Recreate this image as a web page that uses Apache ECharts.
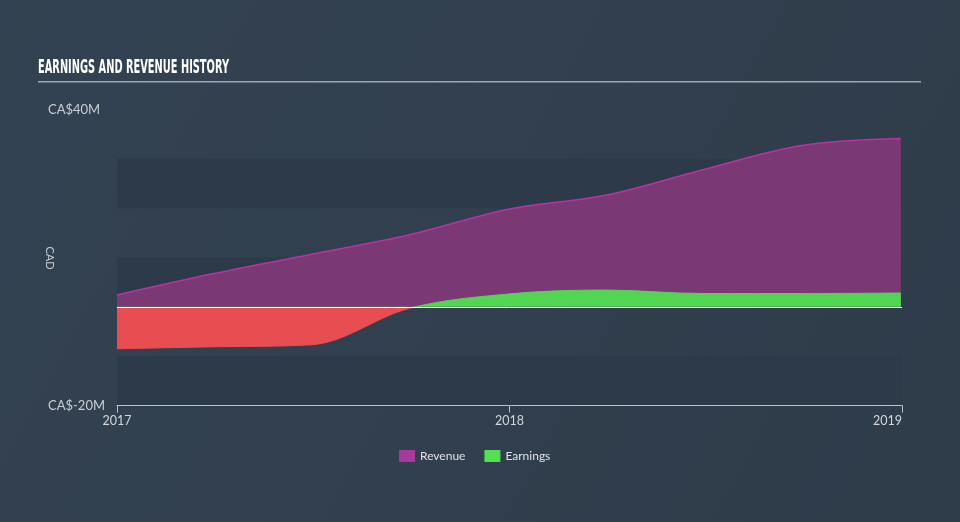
<!DOCTYPE html>
<html>
<head>
<meta charset="utf-8">
<script src="https://cdn.jsdelivr.net/npm/echarts@6/dist/echarts.min.js"></script>
<style>
html,body{margin:0;padding:0;background:#334150;}
#chart{width:960px;height:522px;}
</style>
</head>
<body>
<div id="chart"></div>
<script>
// ---- data ----
var dates = ['2017-01-01','2017-03-31','2017-06-30','2017-09-30','2017-12-31','2018-03-31','2018-06-30','2018-09-30','2018-12-31'];
var revenue = [2.4, 6.7, 10.6, 14.6, 19.8, 22.6, 27.8, 32.7, 34.1];   // CA$ millions
var earnings = [-8.5, -8.1, -7.7, -0.3, 2.6, 3.4, 2.7, 2.7, 2.8];     // CA$ millions
var xTickLabels = ['2017', '2018', '2019'];
var yTickLabels = {'40': 'CA$40M', '-20': 'CA$-20M'};
var seriesNames = ['Revenue', 'Earnings'];

var base = Date.UTC(2017, 0, 1);
function dayOf(s) { var p = s.split('-'); return (Date.UTC(+p[0], +p[1] - 1, +p[2]) - base) / 86400000; }
var xs = dates.map(dayOf);
var revData = xs.map(function (x, i) { return [x, revenue[i]]; });
var earnData = xs.map(function (x, i) { return [x, earnings[i]]; });

// title width fit
var titleText = 'EARNINGS AND REVENUE HISTORY';
var titleFont = 'bold 20px "DejaVu Sans Condensed", "DejaVu Sans", sans-serif';
var cv = document.createElement('canvas').getContext('2d');
cv.font = titleFont;
var tw = cv.measureText(titleText).width || 300;
var sx = 191 / tw;

var chart = echarts.init(document.getElementById('chart'), null, {renderer: 'canvas'});
var option = {
  animation: false,
  backgroundColor: {
    type: 'linear', x: 0, y: 0, x2: 1, y2: 1,
    colorStops: [{offset: 0, color: '#334252'}, {offset: 1, color: '#2f3c4a'}]
  },
  textStyle: {fontFamily: 'Lato, "Open Sans", sans-serif'},
  graphic: [
    {
      type: 'text', x: 38, y: 67.5, scaleX: sx,
      style: {text: titleText, font: titleFont, fill: '#ffffff', verticalAlign: 'middle'}
    },
    {
      type: 'rect', shape: {x: 38, y: 81, width: 883, height: 1.6},
      style: {fill: '#9ea7b1'}
    },
    {
      type: 'text', x: 50, y: 258, rotation: -Math.PI / 2,
      style: {text: 'CAD', font: '11px Lato', fill: '#c9ced4', align: 'center', verticalAlign: 'middle'}
    }
  ],
  grid: {left: 117, right: 58, top: 109.5, bottom: 116.5, containLabel: false},
  legend: {
    bottom: 55, left: 394,
    itemWidth: 16, itemHeight: 12, itemGap: 19,
    icon: 'rect',
    textStyle: {color: '#dfe3e8', fontSize: 12, fontFamily: 'Lato'},
    data: [
      {name: seriesNames[0], itemStyle: {color: '#a8389b'}},
      {name: seriesNames[1], itemStyle: {color: '#52e052'}}
    ]
  },
  xAxis: {
    type: 'value', min: 0, max: 730, interval: 365,
    axisLine: {onZero: false, lineStyle: {color: '#b9c2cc', width: 1}},
    axisTick: {show: true, length: 7, lineStyle: {color: '#b9c2cc'}},
    splitLine: {show: false},
    axisLabel: {
      color: '#d3d8dd', fontSize: 12.5, margin: 9,
      alignMaxLabel: 'right',
      formatter: function (v) { return xTickLabels[Math.round(v / 365)] || ''; }
    }
  },
  yAxis: {
    type: 'value', min: -20, max: 40, interval: 10,
    axisLine: {show: false}, axisTick: {show: false},
    splitLine: {show: false},
    splitArea: {show: true, areaStyle: {color: ['#2d3a49', 'rgba(0,0,0,0)']}},
    axisLabel: {
      color: '#c9ced4', fontSize: 13, align: 'left', margin: 69,
      formatter: function (v) { return yTickLabels[String(v)] || ''; }
    }
  },
  visualMap: {
    show: false, type: 'piecewise', seriesIndex: 1, dimension: 1,
    pieces: [{gt: 0, lte: 100, color: '#52d552'}, {gt: -100, lte: 0, color: '#e84e51'}],
    outOfRange: {color: '#52d552'}
  },
  series: [
    {
      name: seriesNames[0], type: 'line', data: revData, smooth: 0.35,
      symbol: 'none', z: 2,
      lineStyle: {color: '#b8349f', width: 1.5},
      itemStyle: {color: '#a8389b'},
      areaStyle: {color: '#7a3874', opacity: 1}
    },
    {
      name: seriesNames[1], type: 'line', data: earnData, smooth: 0.35,
      symbol: 'none', z: 3,
      lineStyle: {width: 1},
      areaStyle: {opacity: 1},
      markLine: {
        silent: true, symbol: 'none', label: {show: false},
        lineStyle: {color: '#ffffff', width: 1, type: 'solid'},
        data: [{yAxis: 0}]
      }
    }
  ]
};
chart.setOption(option);
</script>
</body>
</html>
